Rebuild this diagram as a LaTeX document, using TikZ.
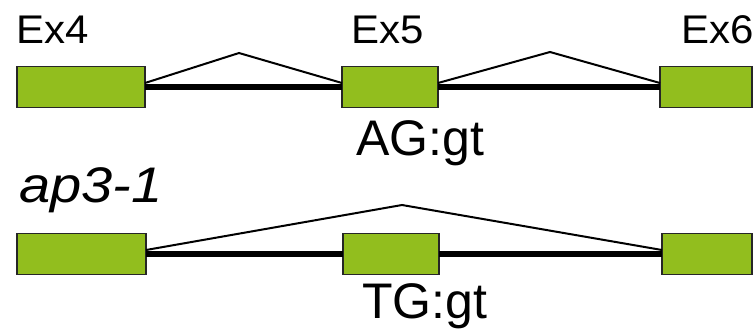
\documentclass[tikz,border=0pt]{standalone}
\usepackage{fontspec}
\setmainfont{Liberation Sans}
\newfontfamily\widesans[FakeStretch=1.05]{Liberation Sans}
\newfontfamily\mutsans[FakeStretch=1.12]{Liberation Sans}
\definecolor{exongreen}{RGB}{146,190,30}
\begin{document}
\begin{tikzpicture}[x=1pt,y=-1pt,
  exon/.style={draw=black!85,line width=1.5pt,fill=exongreen,minimum height=41pt,inner sep=0pt,outer sep=0pt},
  intron/.style={line width=6.5pt},
  splice/.style={line width=2pt,line join=miter},
  lbl/.style={anchor=base west,inner sep=0pt,font=\widesans\fontsize{40}{44}\selectfont},
  big/.style={anchor=base west,inner sep=0pt,font=\fontsize{50}{54}\selectfont}]
\useasboundingbox (0,0) rectangle (753,333);
% row 1
\node[exon,minimum width=128pt] (a4) at (81,87) {};
\node[exon,minimum width=96pt] (a5) at (390,87) {};
\node[exon,minimum width=92pt] (a6) at (706,87) {};
\coordinate (ap1) at (239,53);
\coordinate (ap2) at (550,52);
\draw[intron] (a4.east) -- (a5.west);
\draw[intron] (a5.east) -- (a6.west);
\draw[splice] ([yshift=4pt]a4.east) -- (ap1) -- ([yshift=4pt]a5.west);
\draw[splice] ([yshift=4pt]a5.east) -- (ap2) -- ([yshift=4pt]a6.west);
\node[lbl] (t4) at (16,43) {Ex4};
\node[lbl] (t5) at (351,43) {Ex5};
\node[lbl] (t6) at (681,43) {Ex6};
\node[big] (ag) at (356,155) {AG:gt};
% row 2
\node[exon,minimum width=129pt] (b4) at (81.5,254) {};
\node[exon,minimum width=96pt] (b5) at (391,254) {};
\node[exon,minimum width=90pt] (b6) at (707,254) {};
\coordinate (bp) at (402,205);
\draw[intron] (b4.east) -- (b5.west);
\draw[intron] (b5.east) -- (b6.west);
\draw[splice] ([yshift=4pt]b4.east) -- (bp) -- ([yshift=4pt]b6.west);
\node[big,font=\mutsans\fontsize{50}{54}\selectfont\itshape] (mut) at (19,202) {ap3-1};
\node[big] (tg) at (362,318) {TG:gt};
\end{tikzpicture}
\end{document}
